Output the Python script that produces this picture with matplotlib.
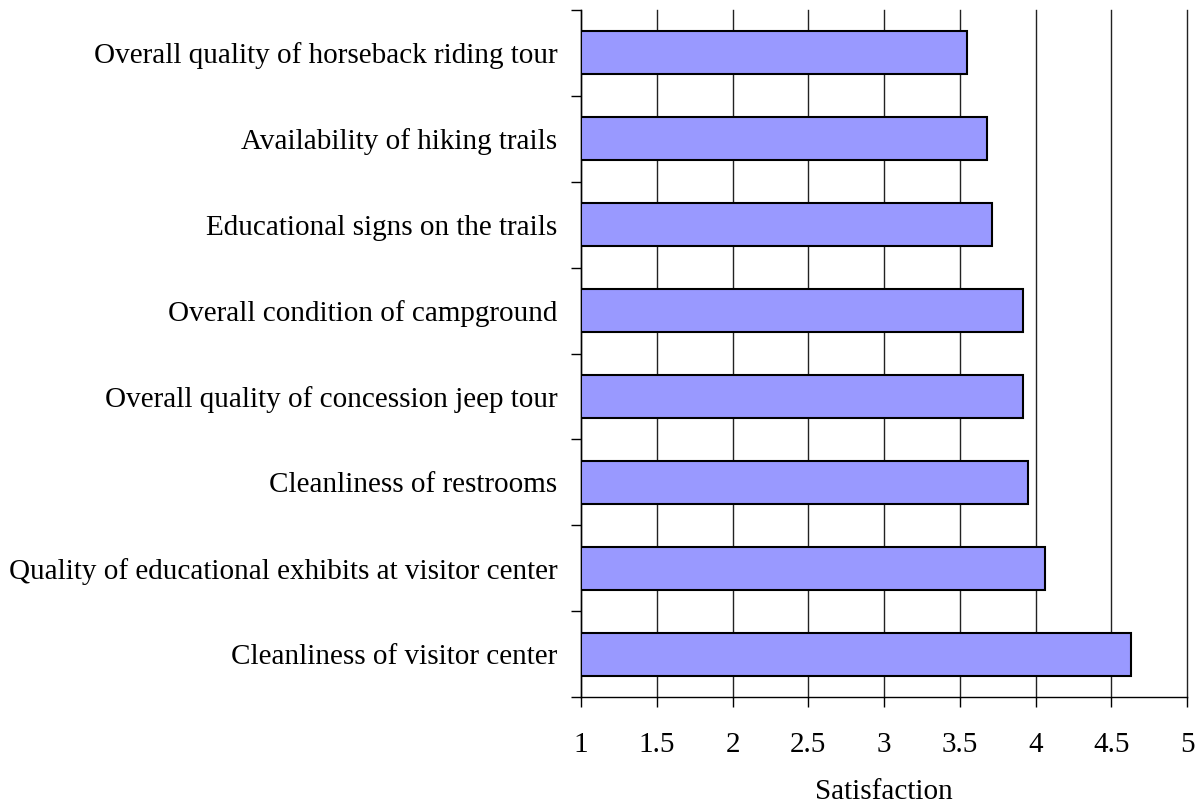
import numpy as np
import matplotlib
matplotlib.use("Agg")
import matplotlib.pyplot as plt

# survey items, listed bottom to top
items = [
    "Cleanliness of visitor center",
    "Quality of educational exhibits at visitor center",
    "Cleanliness of restrooms",
    "Overall quality of concession jeep tour",
    "Overall condition of campground",
    "Educational signs on the trails",
    "Availability of hiking trails",
    "Overall quality of horseback riding tour",
]
scores = [4.63, 4.06, 3.95, 3.92, 3.92, 3.71, 3.68, 3.55]
xticks = [1, 1.5, 2, 2.5, 3, 3.5, 4, 4.5, 5]
xtick_labels = ["1", "1.5", "2", "2.5", "3", "3.5", "4", "4.5", "5"]

plt.rcParams['font.family'] = ['Liberation Serif', 'DejaVu Serif']
FS = 21

fig = plt.figure(figsize=(12, 8.06), dpi=100)
ax = fig.add_axes([0.4842, 0.1352, 0.505, 0.8524])

y = np.arange(len(items))
base = 1.0
ax.barh(y, np.array(scores) - base, left=base, height=0.5,
        color="#9999ff", edgecolor="black", linewidth=1.5, zorder=3)

ax.set_xlim(1, 5)
ax.set_ylim(-0.5, len(items) - 0.5)

# vertical grid
ax.set_xticks(xticks)
ax.set_xticklabels(xtick_labels, fontsize=FS)
ax.xaxis.grid(True, color="#222222", linewidth=1.0, zorder=0)
ax.set_axisbelow(True)
for gl in ax.get_xgridlines():
    gl.set_clip_on(False)

# category labels at bar centres, tick marks at the boundaries
ax.set_yticks(y)
ax.set_yticklabels(items, fontsize=FS)
ax.set_yticks(np.arange(-0.5, len(items), 1.0), minor=True)
ax.tick_params(axis="y", which="major", length=0, pad=17)
ax.tick_params(axis="y", which="minor", length=7, width=1, direction="out")
ax.tick_params(axis="x", which="major", length=7, width=1, direction="out", pad=18)

for side in ["top", "right"]:
    ax.spines[side].set_visible(False)
ax.spines["left"].set_linewidth(1.0)
ax.spines["bottom"].set_linewidth(1.0)

ax.set_xlabel("Satisfaction", fontsize=FS, labelpad=15)

fig.savefig("out.png", dpi=100)
